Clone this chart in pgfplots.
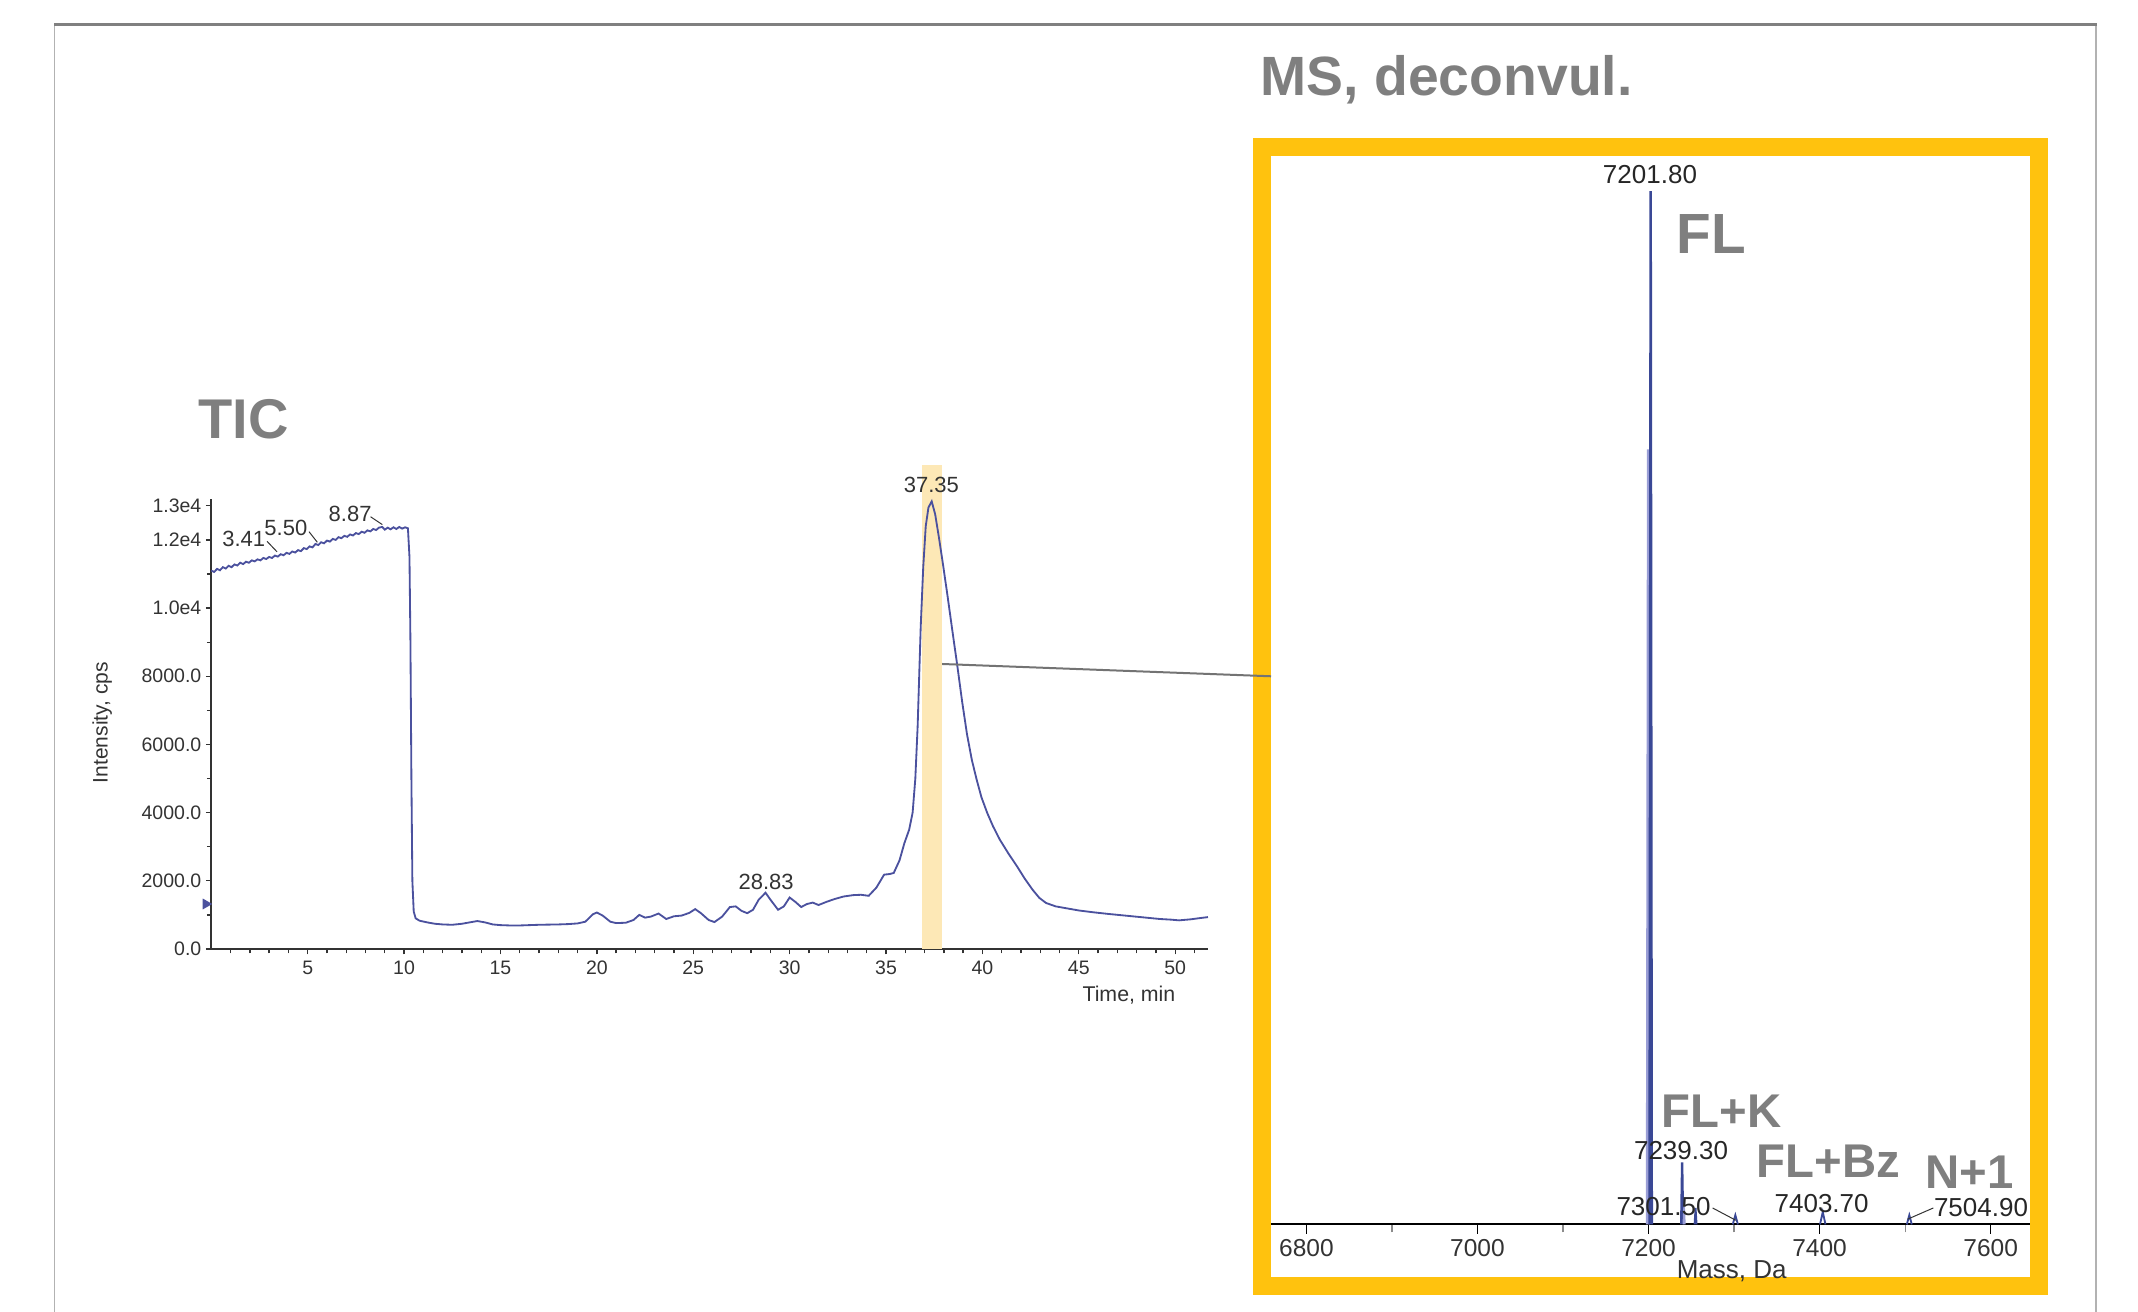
\documentclass[border=0pt]{standalone}
\usepackage{pgfplots}
\pgfplotsset{compat=1.18}
\usepackage{fontspec}
\setmainfont{Liberation Sans}
\definecolor{ticblue}{HTML}{4B519E}
\definecolor{msblue}{HTML}{3A4896}
\definecolor{mslight}{HTML}{9A9ED6}
\definecolor{biggray}{HTML}{7F7F7F}
\definecolor{frameyellow}{HTML}{FFC20E}
\definecolor{hlyellow}{HTML}{FDE8B6}
\definecolor{txt}{HTML}{333333}
\begin{document}
\begin{tikzpicture}[x=0.3pt,y=0.3pt]
\useasboundingbox (0,0) rectangle (2138,1312);
% outer frame
\draw[line width=0.45pt, color=black!30] (54.5,-5) -- (54.5,1287.5);
\draw[line width=0.45pt, color=black!30] (2096,-5) -- (2096,1287.5);
\draw[line width=0.9pt, color=black!50] (54,1287.5) -- (2096.5,1287.5);
% yellow frame
\draw[line width=5.4pt, color=frameyellow] (1262,26) rectangle (2039,1165);

% ---------------- TIC ----------------
\begin{axis}[
  at={(63.39pt,108.9pt)}, anchor=south west, scale only axis,
  width=299pt, height=135pt,
  xmin=0, xmax=51.7, ymin=0, ymax=13200,
  scaled y ticks=false, scaled x ticks=false,
  axis lines=left, axis line style={-, line width=0.5pt, color=txt},
  xtick={5,10,15,20,25,30,35,40,45,50},
  xticklabels={5,10,15,20,25,30,35,40,45,50},
  minor xtick={1,2,...,51},
  ytick={0,2000,4000,6000,8000,10000,12000,13000},
  yticklabels={0.0,2000.0,4000.0,6000.0,8000.0,1.0e4,1.2e4,1.3e4},
  minor ytick={1000,3000,5000,7000,9000,11000},
  tick align=outside, major tick length=1.6pt, minor tick length=1.3pt,
  tick style={color=txt, line width=0.4pt},
  ticklabel style={font=\fontsize{5.85}{6}\selectfont, color=txt},
  xticklabel style={inner sep=0pt, yshift=-1.8pt},
  yticklabel style={inner sep=0pt, xshift=-1.2pt},
  clip=false,
  xlabel={Time, min}, ylabel={Intensity, cps},
  xlabel style={at={(axis description cs:0.9207,-0.103)}, anchor=center, font=\fontsize{6.4}{7}\selectfont, color=txt, inner sep=0pt},
  ylabel style={at={(axis description cs:-0.1094,0.503)}, anchor=center, rotate=0, font=\fontsize{6.3}{7}\selectfont, color=txt, inner sep=0pt},
]
\fill[hlyellow] (axis cs:36.85,0) rectangle (axis cs:37.91,14200);
\coordinate (hl) at (axis cs:37.91,8360);
\addplot[ticblue, line width=0.55pt, sharp plot] coordinates {
(0.0,11100) (0.15,11060) (0.3,11150) (0.45,11110) (0.6,11200) (0.75,11160)
(0.9,11240) (1.05,11200) (1.2,11280) (1.35,11250) (1.5,11330) (1.65,11290)
(1.8,11360) (1.95,11330) (2.1,11400) (2.25,11370) (2.4,11430) (2.55,11400)
(2.7,11470) (2.85,11440) (3.0,11500) (3.15,11470) (3.3,11540) (3.45,11510)
(3.6,11580) (3.75,11550) (3.9,11620) (4.05,11590) (4.2,11660) (4.35,11630)
(4.5,11700) (4.65,11670) (4.8,11760) (4.95,11730) (5.1,11810) (5.25,11780)
(5.4,11880) (5.55,11850) (5.7,11930) (5.85,11900) (6.0,11980) (6.15,11950)
(6.3,12030) (6.45,12000) (6.6,12080) (6.75,12050) (6.9,12120) (7.05,12090)
(7.2,12160) (7.35,12130) (7.5,12200) (7.65,12170) (7.8,12240) (7.95,12210)
(8.1,12280) (8.25,12250) (8.4,12320) (8.55,12290) (8.7,12360) (8.87,12380)
(9.0,12300) (9.15,12360) (9.3,12310) (9.45,12370) (9.6,12320) (9.75,12380)
(9.9,12330) (10.05,12370) (10.2,12340) (10.28,11500) (10.33,9000) (10.38,5000)
(10.43,2000) (10.5,1100) (10.6,900) (10.8,830) (11.2,780) (11.6,740)
(12.0,720) (12.5,710) (13.0,740) (13.5,790) (13.8,820) (14.2,780)
(14.6,720) (15.0,700) (15.5,690) (16.0,690) (16.5,700) (17.0,710)
(17.5,715) (18.0,720) (18.5,730) (19.0,750) (19.4,800) (19.8,1020)
(20.0,1070) (20.3,980) (20.7,800) (21.0,760) (21.5,770) (21.9,850)
(22.2,1000) (22.5,920) (22.8,950) (23.2,1040) (23.6,880) (24.0,960)
(24.4,980) (24.8,1060) (25.1,1170) (25.4,1050) (25.8,850) (26.1,790)
(26.5,950) (26.9,1230) (27.2,1250) (27.5,1120) (27.8,1050) (28.1,1150)
(28.4,1450) (28.75,1650) (29.0,1450) (29.4,1150) (29.7,1250) (30.0,1510)
(30.3,1380) (30.6,1230) (30.9,1320) (31.2,1360) (31.5,1290) (31.9,1380)
(32.3,1460) (32.8,1540) (33.3,1580) (33.7,1590) (34.1,1560) (34.5,1800)
(34.9,2180) (35.2,2200) (35.4,2230) (35.7,2600) (35.95,3100) (36.2,3500)
(36.38,4000) (36.52,5000) (36.64,6530) (36.8,9460) (36.93,11200) (37.06,12400)
(37.2,12950) (37.37,13130) (37.55,12750) (37.75,12050) (37.95,11300) (38.18,10400)
(38.45,9300) (38.7,8300) (38.95,7250) (39.2,6300) (39.45,5550) (39.7,4970)
(39.95,4450) (40.25,3990) (40.55,3600) (40.9,3210) (41.35,2800) (41.8,2420)
(42.2,2060) (42.6,1740) (42.95,1500) (43.3,1350) (43.8,1250) (44.3,1200)
(45.0,1130) (45.7,1080) (46.5,1030) (47.4,980) (48.3,930) (49.2,880)
(49.8,860) (50.2,840) (50.8,870) (51.2,900) (51.7,935)
};
\addplot[only marks, mark=triangle*, mark size=1.5pt, ticblue, mark options={rotate=-90}] coordinates {(-0.28,1320)};
% peak labels
\begin{scope}[font=\fontsize{6.6}{7}\selectfont, text=txt]
\node at (axis cs:1.68,12040) {3.41};
\node at (axis cs:3.87,12360) {5.50};
\node at (axis cs:7.2,12760) {8.87};
\node at (axis cs:28.78,1960) {28.83};
\node at (axis cs:37.35,13600) {37.35};
\end{scope}
\draw[txt, line width=0.3pt] (axis cs:2.89,11960) -- (axis cs:3.41,11650);
\draw[txt, line width=0.3pt] (axis cs:5.07,12240) -- (axis cs:5.5,11930);
\draw[txt, line width=0.3pt] (axis cs:8.26,12680) -- (axis cs:8.87,12450);
\end{axis}

% ---------------- MS ----------------
\begin{axis}[
  at={(381.3pt,26.28pt)}, anchor=south west, scale only axis,
  width=227.7pt, height=310pt,
  xmin=6758.6, xmax=7646, ymin=0, ymax=1,
  axis x line=bottom, axis y line=none,
  axis line style={-, line width=0.6pt, color=black},
  xtick={6800,7000,7200,7400,7600},
  xticklabels={6800,7000,7200,7400,7600},
  minor xtick={6900,7100,7300,7500},
  tick align=outside, major tick length=2.8pt, minor tick length=2.4pt,
  major tick style={color=black, line width=0.4pt},
  minor tick style={color=black!45, line width=0.35pt},
  ticklabel style={font=\fontsize{7.35}{8}\selectfont, color=txt},
  xticklabel style={inner sep=0pt, yshift=-1.5pt},
  clip=false,
  xlabel={Mass, Da},
  xlabel style={at={(axis description cs:0.607,-0.0344)}, anchor=north, font=\fontsize{7.8}{8}\selectfont, color=txt, inner sep=0pt},
]
% peaks (each drawn from the baseline)
\addplot[mslight, line width=0.6pt, sharp plot] coordinates {(7198,0) (7199.3,0.75) (7200.4,0)};
\addplot[msblue, line width=0.75pt, sharp plot] coordinates {(7201.2,0) (7202.5,1) (7203.8,0)};
\addplot[msblue, line width=0.7pt, sharp plot] coordinates {(7238.2,0) (7239.3,0.060) (7240.4,0)};
\addplot[mslight, line width=0.45pt, sharp plot] coordinates {(7240.6,0) (7241.6,0.018) (7242.6,0)};
\addplot[msblue, line width=0.55pt, sharp plot] coordinates {(7253.8,0) (7255,0.016) (7256.2,0)};
\addplot[msblue, line width=0.55pt, sharp plot] coordinates {(7298.5,0) (7301.5,0.009) (7304.5,0)};
\addplot[msblue, line width=0.55pt, sharp plot] coordinates {(7400.5,0) (7403.7,0.012) (7406.9,0)};
\addplot[msblue, line width=0.55pt, sharp plot] coordinates {(7502,0) (7504.9,0.009) (7507.8,0)};
\begin{scope}[font=\fontsize{7.8}{8}\selectfont, text=black!85]
\node at (axis cs:7201.7,1.016) {7201.80};
\node at (axis cs:7238,0.071) {7239.30};
\node at (axis cs:7217.5,0.0171) {7301.50};
\node at (axis cs:7402.4,0.0205) {7403.70};
\node[anchor=west, inner sep=0pt] at (axis cs:7533,0.0166) {7504.90};
\end{scope}
\draw[black!80, line width=0.3pt] (axis cs:7274.9,0.0159) -- (axis cs:7302,0.004);
\draw[black!80, line width=0.3pt] (axis cs:7533,0.0159) -- (axis cs:7502.8,0.005);
\end{axis}

% connector
\draw[color=black!55, line width=0.6pt] (hl) -- (1271,635.7);

% big labels
\begin{scope}[text=biggray]
\node[anchor=base west, inner sep=0pt, font=\bfseries\fontsize{16.6}{18}\selectfont] at (1260,1216.6) {MS, deconvul.};
\node[anchor=base west, inner sep=0pt, font=\bfseries\fontsize{16.8}{18}\selectfont] at (197.7,873) {TIC};
\node[anchor=base west, inner sep=0pt, font=\bfseries\fontsize{17}{18}\selectfont] at (1676,1058.4) {FL};
\node[anchor=base west, inner sep=0pt, font=\bfseries\fontsize{14.2}{16}\selectfont] at (1661,184) {FL+K};
\node[anchor=base west, inner sep=0pt, font=\bfseries\fontsize{14.2}{16}\selectfont] at (1756,134) {FL+Bz};
\node[anchor=base west, inner sep=0pt, font=\bfseries\fontsize{14.2}{16}\selectfont] at (1925,123) {N+1};
\end{scope}
\end{tikzpicture}
\end{document}
